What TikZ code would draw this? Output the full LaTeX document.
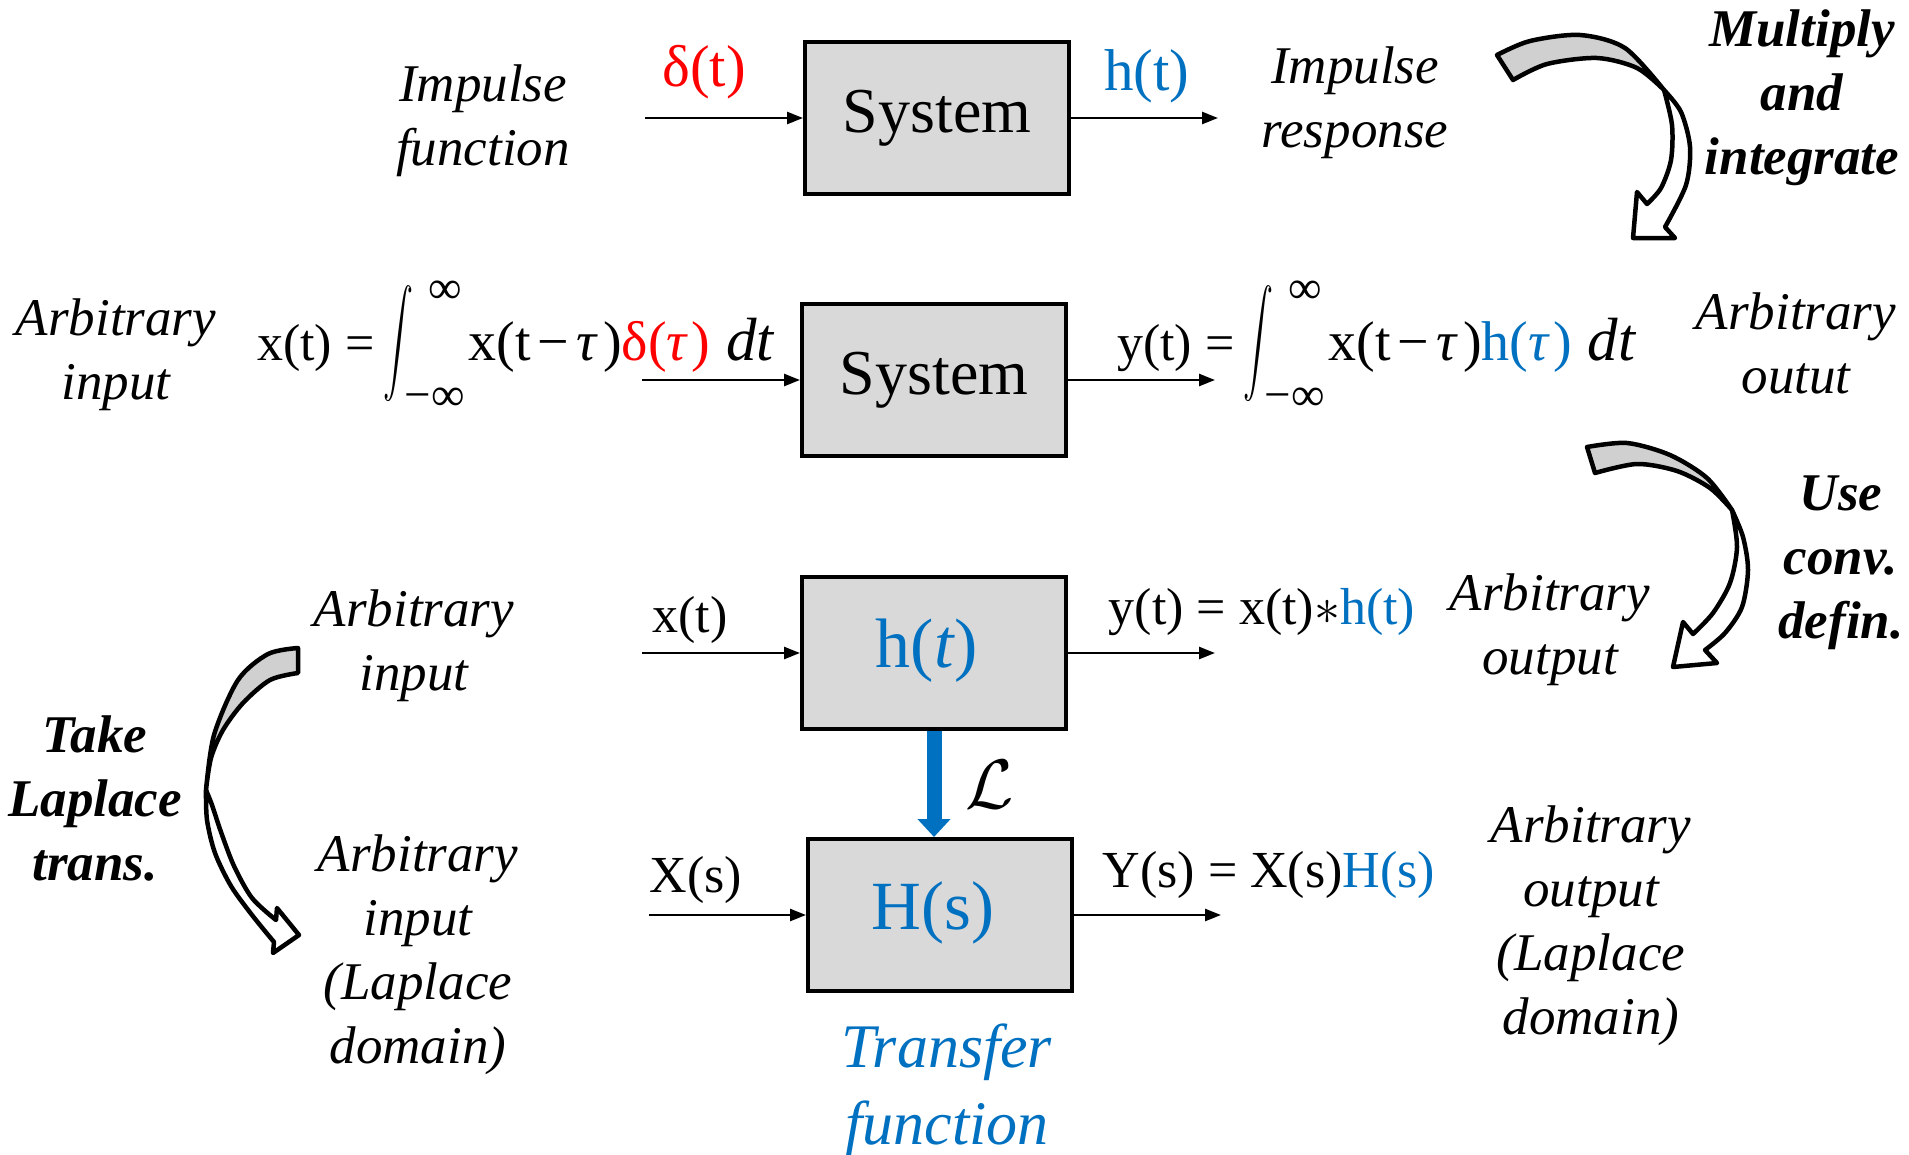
\RequirePackage{fix-cm}
\documentclass[tikz,border=0pt]{standalone}
\usepackage{graphicx}
\usepackage{fontspec}
\setmainfont{Liberation Serif}
\usetikzlibrary{arrows.meta}
\definecolor{myred}{HTML}{FF0000}
\definecolor{myblue}{HTML}{0070C0}
\definecolor{boxgray}{HTML}{D9D9D9}
\definecolor{arrgray}{HTML}{D0D0D0}
% big integral with limits on the right
\newcommand{\bigintg}{\raisebox{-52pt}{\resizebox*{30pt}{126pt}{\raisebox{\depth}{$\displaystyle\int$}}}\hspace{-9pt}%
  \makebox[0pt][l]{\hspace{24pt}\raisebox{57pt}{\fontsize{47}{47}\selectfont ∞}}%
  \raisebox{-50pt}{\fontsize{47}{47}\selectfont −∞}\hspace{4pt}}
\newcommand{\xtt}{{\fontsize{56}{60}\selectfont x(t\hspace{7pt}−\hspace{7pt}\textit{τ}\hspace{5pt})}}
\newcommand{\dtt}{\hspace{16pt}{\fontsize{61}{60}\selectfont\textit{dt}}}
\begin{document}
\begin{tikzpicture}[x=1pt,y=-1pt,
  box/.style={draw, line width=4pt, fill=boxgray, minimum width=264pt, minimum height=152pt, inner sep=0pt, font=\fontsize{64}{70}\selectfont},
  lab/.style={align=center, inner sep=0pt, font=\fontsize{53}{64}\selectfont\itshape},
  blab/.style={align=center, inner sep=0pt, font=\fontsize{53}{64}\selectfont\bfseries\itshape},
  sig/.style={inner sep=0pt, font=\fontsize{52}{60}\selectfont},
  bigsig/.style={inner sep=0pt, font=\fontsize{59}{66}\selectfont},
  eq/.style={inner sep=0pt, anchor=base west, font=\fontsize{52}{60}\selectfont},
  flow/.style={line width=2.5pt, -{Triangle[length=16pt,width=12pt]}},
  curv/.style={line width=4.5pt, line join=round}]
\fill[white] (0,0) rectangle (1909,1154);
\useasboundingbox (0,0) rectangle (1909,1154);

% boxes
\node[box] (b1) at (937,118) {System};
\node[box] (b2) at (934,380) {System};
\node[box] (b3) at (934,653) {};
\node[box] (b4) at (940,915) {};
\node[inner sep=0pt, myblue, font=\fontsize{70}{76}\selectfont] (b3t) at ([xshift=-7pt,yshift=2pt]b3.center) {h(\textit{t})};
\node[inner sep=0pt, myblue, font=\fontsize{69}{76}\selectfont] (b4t) at ([xshift=-7pt,yshift=2pt]b4.center) {H(s)};

% connector end points
\coordinate (i1) at (645,118); \coordinate (o1) at (1218,118);
\coordinate (i2) at (642,380); \coordinate (o2) at (1215,380);
\coordinate (i3) at (642,653); \coordinate (o3) at (1215,653);
\coordinate (i4) at (649,915); \coordinate (o4) at (1221,915);
\draw[flow] (i1) -- (b1.west);
\draw[flow] (b1.east) -- (o1);
\draw[flow] (i2) -- (b2.west);
\draw[flow] (b2.east) -- (o2);
\draw[flow] (i3) -- (b3.west);
\draw[flow] (b3.east) -- (o3);
\draw[flow] (i4) -- (b4.west);
\draw[flow] (b4.east) -- (o4);

% Laplace arrow
\draw[line width=15pt, myblue, -{Triangle[length=18pt,width=32pt]}] (b3.south) -- (b3.south |- b4.north);
\node[inner sep=0pt, font=\fontsize{70}{70}\selectfont] (cl) at (990,785) {$\mathcal{L}$};

% top row labels
\node[bigsig, myred] (dl) at (704,72) {δ(t)};
\node[bigsig, myblue] (hl) at (1147,76) {h(t)};
\node[lab] (imf) at (483,121) {Impulse\\function};
\node[lab] (imr) at (1355,103) {Impulse\\response};
\node[blab] (mi) at (1802,98) {Multiply\\and\\integrate};

% second row
\node[lab] (ai2) at (116,355) {Arbitrary\\input};
\node[eq] (e1) at (257,360) {x(t) =\hspace{9pt}\bigintg\xtt\textcolor{myred}{\fontsize{56}{60}\selectfont δ(\textit{τ}\hspace{3pt})}\dtt};
\node[eq] (e2) at (1117,360) {y(t) =\hspace{9pt}\bigintg\xtt\textcolor{myblue}{\fontsize{56}{60}\selectfont h(\textit{τ}\hspace{3pt})}\dtt};
\node[lab] (ao2) at (1796,343) {Arbitrary\\outut};

% third row
\node[sig] (xt) at (690,620) {x(t)};
\node[sig] (yt) at (1262,612) {y(t) = x(t)$*$\textcolor{myblue}{h(t)}};
\node[lab] (ao3) at (1550,630) {Arbitrary\\output};
\node[lab] (ai3) at (414,646) {Arbitrary\\input};
\node[blab] (uc) at (1841,563) {Use\\conv.\\defin.};

% fourth row
\node[blab] (tl) at (95,798) {Take\\Laplace\\trans.};
\node[sig] (xs) at (696,880) {X(s)};
\node[sig] (ys) at (1269,875) {Y(s) = X(s)\textcolor{myblue}{H(s)}};
\node[lab] (ao4) at (1591,926) {Arbitrary\\output\\(Laplace\\domain)};
\node[lab] (ai4) at (418,955) {Arbitrary\\input\\(Laplace\\domain)};
\node[align=center, inner sep=0pt, myblue, font=\fontsize{62}{77}\selectfont\itshape] (tf) at (947,1091) {Transfer\\function};

% curved arrow 1 (Multiply and integrate)
\draw[curv, fill=arrgray] plot[smooth] coordinates {(1497,55) (1530,41) (1580,35) (1625,48) (1664,90)}
  -- plot[smooth] coordinates {(1664,90) (1637,68) (1597,58) (1547,64) (1513,80)} -- cycle;
\draw[curv, fill=white] plot[smooth] coordinates {(1664,90) (1681,112) (1690,147) (1686,185) (1665,227)}
  -- (1675,238) -- (1633,238) -- (1637,192) -- (1647,204)
  -- plot[smooth] coordinates {(1647,204) (1661,188) (1671,160) (1672,125) (1664,90)} -- cycle;

% curved arrow 2 (Use conv. defin.)
\draw[curv, fill=arrgray] plot[smooth] coordinates {(1587,447) (1627,443) (1670,455) (1707,478) (1732,510)}
  -- plot[smooth] coordinates {(1732,510) (1710,488) (1677,471) (1637,464) (1595,473)} -- cycle;
\draw[curv, fill=white] plot[smooth] coordinates {(1732,510) (1743,537) (1748,570) (1742,607) (1725,633) (1705,650)}
  -- (1717,663) -- (1673,667) -- (1683,622) -- (1693,634)
  -- plot[smooth] coordinates {(1693,634) (1713,613) (1730,583) (1737,547) (1732,510)} -- cycle;

% curved arrow 3 (Take Laplace trans.)
\draw[curv, fill=arrgray] plot[smooth] coordinates {(298,648) (268,654) (238,680) (214,735) (206,790)}
  -- plot[smooth] coordinates {(206,790) (211,758) (223,730) (243,703) (270,680) (298,673)} -- cycle;
\draw[curv, fill=white] plot[smooth] coordinates {(206,790) (207,820) (215,853) (231,886) (252,915) (274,942)}
  -- (273,953) -- (299,935) -- (277,908) -- (276,920)
  -- plot[smooth] coordinates {(276,920) (252,898) (234,866) (221,832) (212,805) (206,790)} -- cycle;
\end{tikzpicture}
\end{document}
